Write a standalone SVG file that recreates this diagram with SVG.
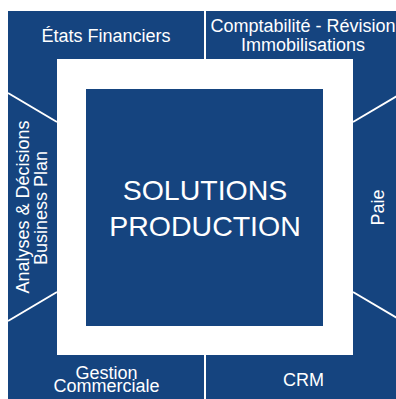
<svg xmlns="http://www.w3.org/2000/svg" width="396" height="399" viewBox="0 0 396 399">
<style>
.seg{fill:#15447f}
.lbl{fill:#ffffff;font-family:"Liberation Sans",Arial,Helvetica,sans-serif;font-size:18px;text-anchor:middle}
.big{font-size:28.5px}
.div{stroke:#ffffff;stroke-width:2;fill:none}
</style>
<rect x="0" y="0" width="396" height="399" fill="#ffffff"/>
<g id="etats-financiers">
<polygon class="seg" points="8,11 205,11 205,59 57,59 57,122 8,93"/>
<text class="lbl" x="106" y="42">États Financiers</text>
</g>
<g id="comptabilite">
<polygon class="seg" points="205,11 402,11 402,93 353,122 353,59 205,59"/>
<text class="lbl" x="303" y="32">Comptabilité - Révision</text>
<text class="lbl" x="303" y="50.5">Immobilisations</text>
</g>
<g id="paie">
<polygon class="seg" points="353,122 402,93 402,321 353,292"/>
<text class="lbl" transform="translate(383.5,207.5) rotate(-90)" x="0" y="0">Paie</text>
</g>
<g id="crm">
<polygon class="seg" points="353,292 402,321 402,403 205,403 205,355 353,355"/>
<text class="lbl" x="303.5" y="386">CRM</text>
</g>
<g id="gestion-commerciale">
<polygon class="seg" points="8,321 57,292 57,355 205,355 205,403 8,403"/>
<text class="lbl" x="106.5" y="379">Gestion</text>
<text class="lbl" x="106.5" y="391.5">Commerciale</text>
</g>
<g id="analyses-decisions">
<polygon class="seg" points="8,93 57,122 57,292 8,321"/>
<text class="lbl" transform="translate(29,207) rotate(-90)" x="0" y="0">Analyses &amp; Décisions</text>
<text class="lbl" transform="translate(47,208) rotate(-90)" x="0" y="0">Business Plan</text>
</g>
<g id="solutions-production">
<rect class="seg" x="86" y="89" width="237" height="237"/>
<text class="lbl big" x="205" y="200">SOLUTIONS</text>
<text class="lbl big" x="205" y="236">PRODUCTION</text>
</g>
<g id="connectors">
<line class="div" x1="205" y1="11" x2="205" y2="59"/>
<line class="div" x1="205" y1="355" x2="205" y2="403"/>
<line class="div" x1="8" y1="93" x2="57" y2="122"/>
<line class="div" x1="8" y1="321" x2="57" y2="292"/>
<line class="div" x1="402" y1="93" x2="353" y2="122"/>
<line class="div" x1="402" y1="321" x2="353" y2="292"/>
</g>
</svg>
